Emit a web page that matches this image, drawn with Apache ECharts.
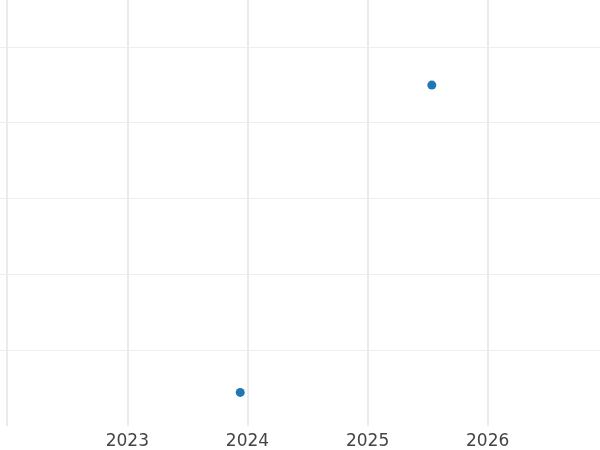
<!DOCTYPE html>
<html>
<head>
<meta charset="utf-8">
<script src="https://cdn.jsdelivr.net/npm/echarts@6/dist/echarts.min.js"></script>
<style>html,body{margin:0;padding:0;background:#fff;}#c{width:600px;height:450px;}</style>
</head>
<body>
<div id="c"></div>
<script>
// Data (x in fractional years, y in axis units; y labels are not visible in the reference)
const xValues = [2023.94, 2025.535];
const yValues = [0.443, 4.496];
const xTickLabels = ['2023', '2024', '2025', '2026'];

const points = xValues.map((x, i) => [x, yValues[i]]);

const chart = echarts.init(document.getElementById('c'), null, {renderer: 'canvas'});
chart.setOption({
  animation: false,
  backgroundColor: '#ffffff',
  grid: {left: 0, right: 0, top: 0, bottom: 23, containLabel: false},
  xAxis: {
    type: 'value',
    min: 2021.94, max: 2026.935, splitNumber: 5,
    axisLine: {show: false},
    axisTick: {show: false},
    axisLabel: {
      margin: 7,
      color: '#444444',
      fontFamily: 'DejaVu Sans',
      fontSize: 17,
      showMinLabel: false, showMaxLabel: false,
      formatter: v => {
        const s = String(Math.round(v));
        return (Math.abs(v - Math.round(v)) < 1e-6 && xTickLabels.includes(s)) ? s : '';
      }
    },
    splitLine: {show: true, showMinLine: false, showMaxLine: false, lineStyle: {color: '#ebebeb', width: 2}}
  },
  yAxis: {
    type: 'value',
    min: 0, max: 5.618, interval: 1,
    axisLine: {show: false},
    axisTick: {show: false},
    axisLabel: {show: false},
    splitLine: {show: true, showMinLine: false, showMaxLine: false, lineStyle: {color: '#eeeeee', width: 1}}
  },
  series: [{
    type: 'scatter',
    data: points,
    symbol: 'circle',
    symbolSize: 9,
    itemStyle: {color: '#1f77b4', opacity: 1}
  }]
});
</script>
</body>
</html>
